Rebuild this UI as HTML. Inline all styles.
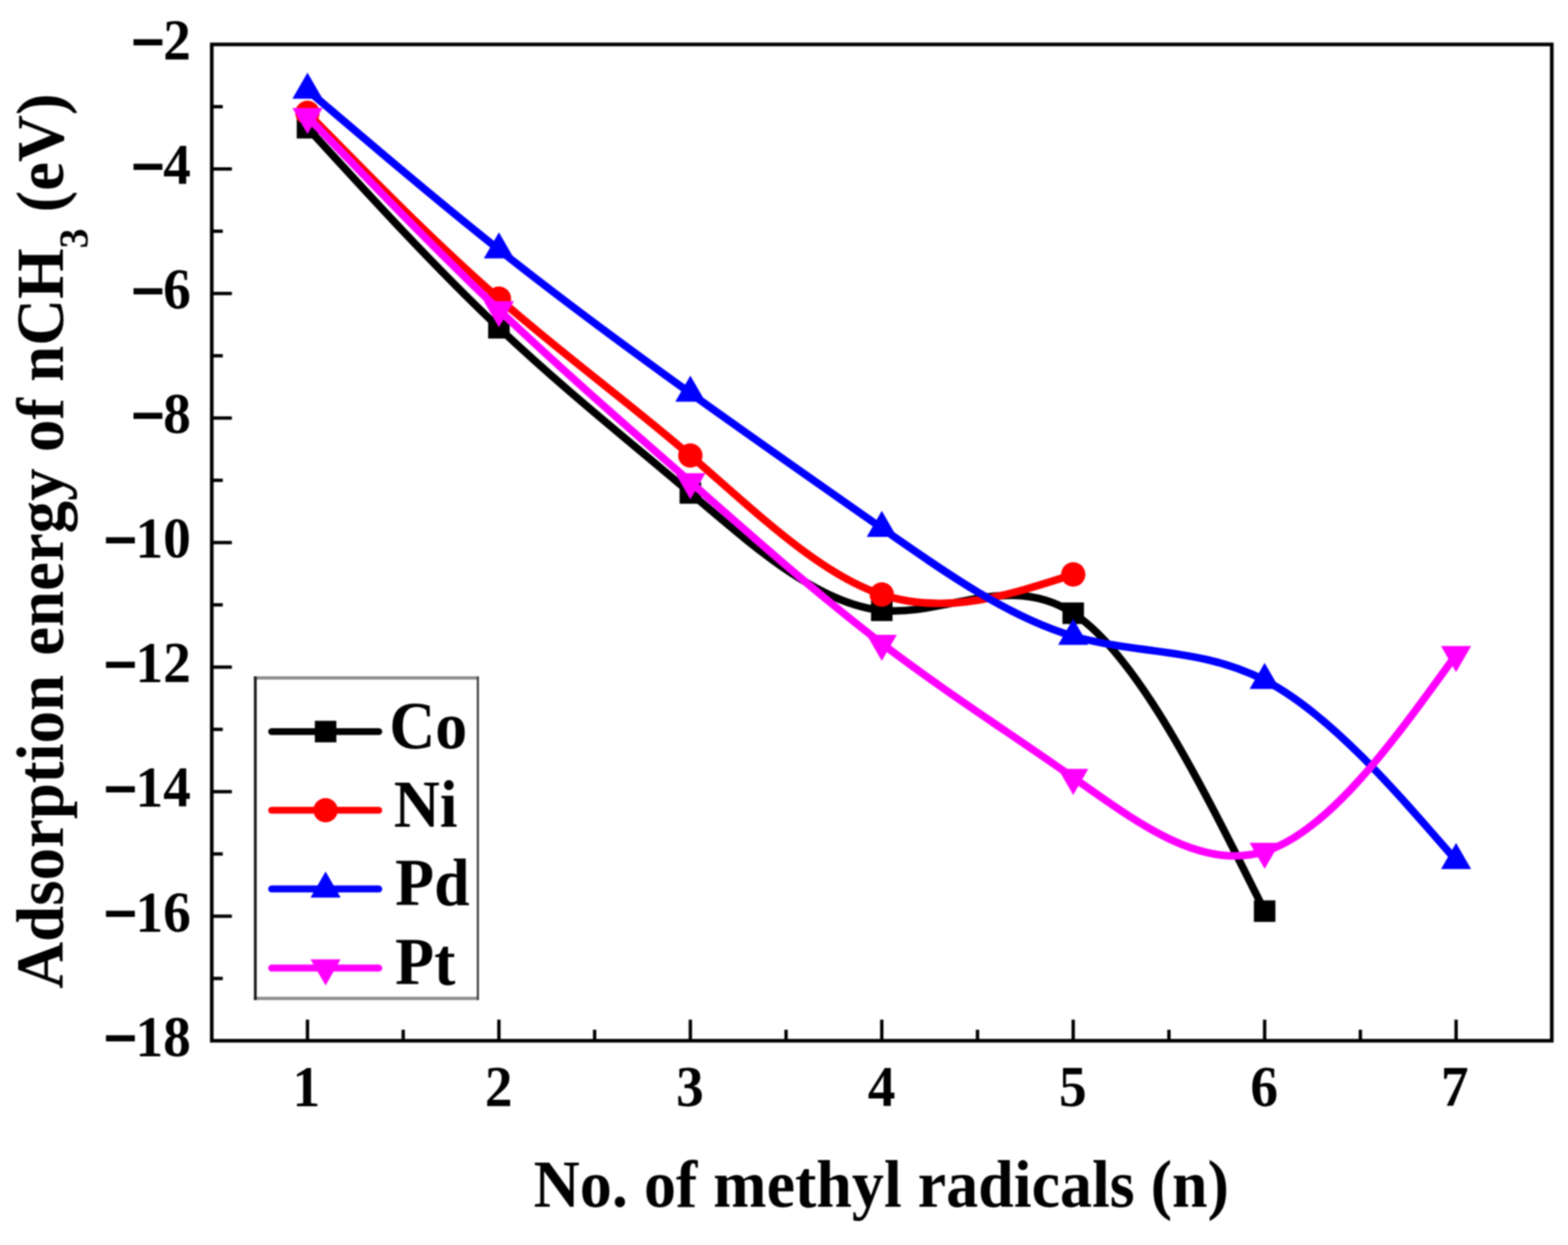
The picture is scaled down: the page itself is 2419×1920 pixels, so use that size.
<!DOCTYPE html>
<html lang="en"><head><meta charset="utf-8"><title>Adsorption energy chart</title>
<style>
html,body{margin:0;padding:0;background:#fff;}
body{width:2419px;height:1920px;overflow:hidden;}
svg{display:block;}
text{font-family:"Liberation Serif","DejaVu Serif",serif;font-weight:bold;fill:#000;}
.tk{font-size:88.0px;}
.ti{font-size:103.0px;}
.lg{font-size:103.0px;}
.mn{font-size:92.0px;stroke:#000;stroke-width:3.2px;}
</style></head><body>
<svg width="2419" height="1920" viewBox="0 0 2419 1920">
<defs><filter id="soft" filterUnits="userSpaceOnUse" x="0" y="0" width="2419" height="1920" color-interpolation-filters="sRGB"><feGaussianBlur stdDeviation="0.9"/></filter></defs>
<rect x="0" y="0" width="2419" height="1920" fill="#ffffff"/>
<g id="figure" filter="url(#soft)">
<rect x="0" y="0" width="2419" height="1920" fill="#ffffff"/>
<g id="curves" fill="none" stroke-linejoin="round" stroke-linecap="butt">
<g><path d="M474.36,197.00 C572.81,304.73 671.25,412.45 769.69,505.50 C868.14,598.55 966.58,676.91 1065.02,760.20 C1163.46,843.49 1261.91,931.70 1360.35,941.20 C1458.79,950.70 1557.24,881.50 1655.68,945.70 C1754.12,1009.90 1852.56,1207.50 1951.01,1405.10" stroke="#000000" stroke-width="11.7" fill="none"/>
<rect x="457.76" y="180.40" width="33.2" height="33.2" fill="#000000"/>
<rect x="753.09" y="488.90" width="33.2" height="33.2" fill="#000000"/>
<rect x="1048.42" y="743.60" width="33.2" height="33.2" fill="#000000"/>
<rect x="1343.75" y="924.60" width="33.2" height="33.2" fill="#000000"/>
<rect x="1639.08" y="929.10" width="33.2" height="33.2" fill="#000000"/>
<rect x="1934.41" y="1388.50" width="33.2" height="33.2" fill="#000000"/>
</g>
<g><path d="M474.36,174.00 C572.81,274.28 671.25,374.55 769.69,460.50 C868.14,546.45 966.58,618.06 1065.02,702.50 C1163.46,786.94 1261.91,884.20 1360.35,916.90 C1458.79,949.60 1557.24,917.75 1655.68,885.90" stroke="#ff0000" stroke-width="11.7" fill="none"/>
<circle cx="474.36" cy="174.00" r="18.8" fill="#ff0000"/>
<circle cx="769.69" cy="460.50" r="18.8" fill="#ff0000"/>
<circle cx="1065.02" cy="702.50" r="18.8" fill="#ff0000"/>
<circle cx="1360.35" cy="916.90" r="18.8" fill="#ff0000"/>
<circle cx="1655.68" cy="885.90" r="18.8" fill="#ff0000"/>
</g>
<g><path d="M474.36,138.90 C572.81,222.86 671.25,306.82 769.69,385.00 C868.14,463.18 966.58,535.59 1065.02,606.20 C1163.46,676.81 1261.91,745.62 1360.35,814.50 C1458.79,883.38 1557.24,952.33 1655.68,981.00 C1754.12,1009.67 1852.56,998.06 1951.01,1049.00 C2049.45,1099.94 2147.89,1213.42 2246.34,1326.90" stroke="#0000ff" stroke-width="11.7" fill="none"/>
<polygon points="474.36,112.05 497.61,152.32 451.11,152.32" fill="#0000ff"/>
<polygon points="769.69,358.15 792.94,398.42 746.44,398.42" fill="#0000ff"/>
<polygon points="1065.02,579.35 1088.27,619.62 1041.77,619.62" fill="#0000ff"/>
<polygon points="1360.35,787.65 1383.60,827.92 1337.10,827.92" fill="#0000ff"/>
<polygon points="1655.68,954.15 1678.93,994.42 1632.43,994.42" fill="#0000ff"/>
<polygon points="1951.01,1022.15 1974.26,1062.42 1927.76,1062.42" fill="#0000ff"/>
<polygon points="2246.34,1300.05 2269.59,1340.32 2223.09,1340.32" fill="#0000ff"/>
</g>
<g><path d="M474.36,180.00 C572.81,282.17 671.25,384.34 769.69,478.00 C868.14,571.66 966.58,656.82 1065.02,743.20 C1163.46,829.58 1261.91,917.19 1360.35,992.30 C1458.79,1067.41 1557.24,1130.03 1655.68,1199.10 C1754.12,1268.17 1852.56,1343.69 1951.01,1313.20 C2049.45,1282.71 2147.89,1146.20 2246.34,1009.70" stroke="#ff00ff" stroke-width="11.7" fill="none"/>
<polygon points="474.36,206.85 497.61,166.58 451.11,166.58" fill="#ff00ff"/>
<polygon points="769.69,504.85 792.94,464.58 746.44,464.58" fill="#ff00ff"/>
<polygon points="1065.02,770.05 1088.27,729.78 1041.77,729.78" fill="#ff00ff"/>
<polygon points="1360.35,1019.15 1383.60,978.88 1337.10,978.88" fill="#ff00ff"/>
<polygon points="1655.68,1225.95 1678.93,1185.68 1632.43,1185.68" fill="#ff00ff"/>
<polygon points="1951.01,1340.05 1974.26,1299.78 1927.76,1299.78" fill="#ff00ff"/>
<polygon points="2246.34,1036.55 2269.59,996.28 2223.09,996.28" fill="#ff00ff"/>
</g>
</g>
<g id="axes" stroke="#000" fill="none">
<rect x="326.7" y="68.5" width="2067.30" height="1536.50" stroke-width="5.6"/>
<line x1="474.36" y1="1605.0" x2="474.36" y2="1572.5" stroke-width="5.2"/>
<line x1="769.69" y1="1605.0" x2="769.69" y2="1572.5" stroke-width="5.2"/>
<line x1="1065.02" y1="1605.0" x2="1065.02" y2="1572.5" stroke-width="5.2"/>
<line x1="1360.35" y1="1605.0" x2="1360.35" y2="1572.5" stroke-width="5.2"/>
<line x1="1655.68" y1="1605.0" x2="1655.68" y2="1572.5" stroke-width="5.2"/>
<line x1="1951.01" y1="1605.0" x2="1951.01" y2="1572.5" stroke-width="5.2"/>
<line x1="2246.34" y1="1605.0" x2="2246.34" y2="1572.5" stroke-width="5.2"/>
<line x1="622.03" y1="1605.0" x2="622.03" y2="1588.0" stroke-width="5.2"/>
<line x1="917.36" y1="1605.0" x2="917.36" y2="1588.0" stroke-width="5.2"/>
<line x1="1212.69" y1="1605.0" x2="1212.69" y2="1588.0" stroke-width="5.2"/>
<line x1="1508.01" y1="1605.0" x2="1508.01" y2="1588.0" stroke-width="5.2"/>
<line x1="1803.34" y1="1605.0" x2="1803.34" y2="1588.0" stroke-width="5.2"/>
<line x1="2098.67" y1="1605.0" x2="2098.67" y2="1588.0" stroke-width="5.2"/>
<line x1="326.7" y1="260.56" x2="357.7" y2="260.56" stroke-width="5.2"/>
<line x1="326.7" y1="452.62" x2="357.7" y2="452.62" stroke-width="5.2"/>
<line x1="326.7" y1="644.69" x2="357.7" y2="644.69" stroke-width="5.2"/>
<line x1="326.7" y1="836.75" x2="357.7" y2="836.75" stroke-width="5.2"/>
<line x1="326.7" y1="1028.81" x2="357.7" y2="1028.81" stroke-width="5.2"/>
<line x1="326.7" y1="1220.88" x2="357.7" y2="1220.88" stroke-width="5.2"/>
<line x1="326.7" y1="1412.94" x2="357.7" y2="1412.94" stroke-width="5.2"/>
<line x1="326.7" y1="164.53" x2="343.7" y2="164.53" stroke-width="5.2"/>
<line x1="326.7" y1="356.59" x2="343.7" y2="356.59" stroke-width="5.2"/>
<line x1="326.7" y1="548.66" x2="343.7" y2="548.66" stroke-width="5.2"/>
<line x1="326.7" y1="740.72" x2="343.7" y2="740.72" stroke-width="5.2"/>
<line x1="326.7" y1="932.78" x2="343.7" y2="932.78" stroke-width="5.2"/>
<line x1="326.7" y1="1124.84" x2="343.7" y2="1124.84" stroke-width="5.2"/>
<line x1="326.7" y1="1316.91" x2="343.7" y2="1316.91" stroke-width="5.2"/>
<line x1="326.7" y1="1508.97" x2="343.7" y2="1508.97" stroke-width="5.2"/>
</g>
<g id="ylabels" class="tk" text-anchor="end">
<text transform="translate(294.4,91.10) scale(0.97,1)"><tspan class="mn" dy="4.5">−</tspan><tspan dx="-2.0" dy="-4.5">2</tspan></text>
<text transform="translate(294.4,283.16) scale(0.97,1)"><tspan class="mn" dy="4.5">−</tspan><tspan dx="-2.0" dy="-4.5">4</tspan></text>
<text transform="translate(294.4,475.23) scale(0.97,1)"><tspan class="mn" dy="4.5">−</tspan><tspan dx="-2.0" dy="-4.5">6</tspan></text>
<text transform="translate(294.4,667.29) scale(0.97,1)"><tspan class="mn" dy="4.5">−</tspan><tspan dx="-2.0" dy="-4.5">8</tspan></text>
<text transform="translate(294.4,859.35) scale(0.97,1)"><tspan class="mn" dy="4.5">−</tspan><tspan dx="-2.0" dy="-4.5">10</tspan></text>
<text transform="translate(294.4,1051.41) scale(0.97,1)"><tspan class="mn" dy="4.5">−</tspan><tspan dx="-2.0" dy="-4.5">12</tspan></text>
<text transform="translate(294.4,1243.47) scale(0.97,1)"><tspan class="mn" dy="4.5">−</tspan><tspan dx="-2.0" dy="-4.5">14</tspan></text>
<text transform="translate(294.4,1435.54) scale(0.97,1)"><tspan class="mn" dy="4.5">−</tspan><tspan dx="-2.0" dy="-4.5">16</tspan></text>
<text transform="translate(294.4,1627.60) scale(0.97,1)"><tspan class="mn" dy="4.5">−</tspan><tspan dx="-2.0" dy="-4.5">18</tspan></text>
</g>
<g id="xlabels" class="tk" text-anchor="middle">
<text transform="translate(472.66,1704.8) scale(0.97,1)">1</text>
<text transform="translate(769.23,1704.8) scale(0.97,1)">2</text>
<text transform="translate(1064.38,1704.8) scale(0.97,1)">3</text>
<text transform="translate(1360.06,1704.8) scale(0.97,1)">4</text>
<text transform="translate(1655.03,1704.8) scale(0.97,1)">5</text>
<text transform="translate(1950.30,1704.8) scale(0.97,1)">6</text>
<text transform="translate(2244.44,1704.8) scale(0.97,1)">7</text>
</g>
<text class="ti" text-anchor="middle" transform="translate(1359.6,1861.2) scale(0.959,1)">No. of methyl radicals (n)</text>
<text class="ti" text-anchor="middle" transform="translate(96.6,834.4) rotate(-90) scale(0.9718,1)">Adsorption<tspan dx="4.6"> energy of nCH</tspan><tspan font-size="63.0" dy="38.0">3</tspan><tspan dy="-38.0"> (eV)</tspan></text>
<g id="legend">
<rect x="393.9" y="1045.6" width="343.30" height="494.20" fill="#fff" stroke="none"/>
<path d="M391.59999999999997,1045.6 H738.6 M391.59999999999997,1539.8 H738.6" stroke="#8c8c8c" stroke-width="5" fill="none"/>
<path d="M393.9,1043.1 V1542.3" stroke="#1c1c1c" stroke-width="4.4" fill="none"/>
<path d="M737.2,1043.1 V1542.3" stroke="#3a3a3a" stroke-width="3.2" fill="none"/>
<line x1="419.0" y1="1128.2" x2="584.4" y2="1128.2" stroke="#000000" stroke-width="10.6" stroke-linecap="round"/>
<rect x="485.70" y="1111.60" width="33.2" height="33.2" fill="#000000"/>
<text class="lg" transform="translate(600.5,1153.60) scale(0.956,1)">Co</text>
<line x1="419.0" y1="1249.5" x2="584.4" y2="1249.5" stroke="#ff0000" stroke-width="10.6" stroke-linecap="round"/>
<circle cx="502.30" cy="1249.50" r="18.8" fill="#ff0000"/>
<text class="lg" transform="translate(607.5,1274.90) scale(0.956,1)">Ni</text>
<line x1="419.0" y1="1370.9" x2="584.4" y2="1370.9" stroke="#0000ff" stroke-width="10.6" stroke-linecap="round"/>
<polygon points="502.30,1344.05 525.55,1384.32 479.05,1384.32" fill="#0000ff"/>
<text class="lg" transform="translate(609.5,1396.30) scale(0.956,1)">Pd</text>
<line x1="419.0" y1="1492.9" x2="584.4" y2="1492.9" stroke="#ff00ff" stroke-width="10.6" stroke-linecap="round"/>
<polygon points="502.30,1519.75 525.55,1479.48 479.05,1479.48" fill="#ff00ff"/>
<text class="lg" transform="translate(609.5,1518.30) scale(0.956,1)">Pt</text>
</g>
</g>
</svg></body></html>
